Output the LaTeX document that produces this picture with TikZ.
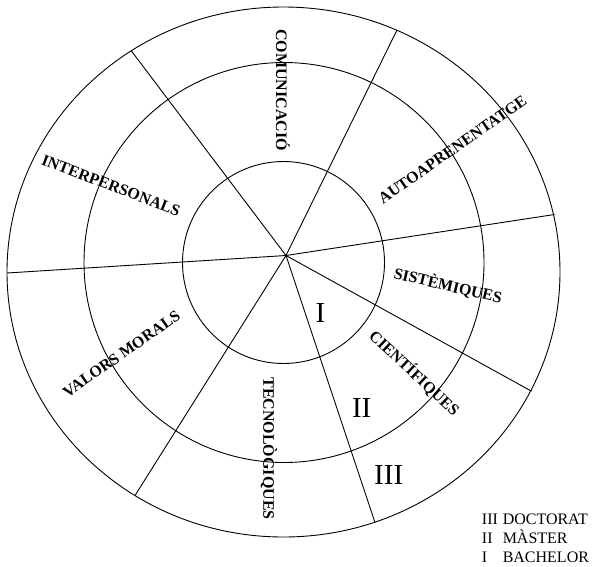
\documentclass[tikz,border=0pt]{standalone}
\usepackage{fontspec}
\setmainfont{Liberation Serif}
\begin{document}
\begin{tikzpicture}[x=1pt,y=-1pt,line width=0.9pt,
  lab/.style={font=\fontsize{16}{16}\selectfont\bfseries,inner sep=0pt},
  num/.style={font=\fontsize{29}{29}\selectfont,inner sep=0pt},
  leg/.style={font=\fontsize{16}{16}\selectfont,inner sep=0pt,anchor=base west}]
\useasboundingbox (0,0) rectangle (592,566);
% rings
\draw (283.5,272) ellipse [x radius=276.5pt, y radius=265pt];
\draw (284,262.5) circle [radius=200pt];
\draw (283.5,262.5) circle [radius=101pt];
% spokes
\coordinate (C) at (286,255.5);
\coordinate (s1) at (131.3,50.8);
\coordinate (s2) at (397,30);
\coordinate (s3) at (554.5,214.5);
\coordinate (s4) at (531.5,391.2);
\coordinate (s5) at (375,522.5);
\coordinate (s6) at (135,495.5);
\coordinate (s7) at (7,273);
\foreach \s in {s1,s2,s3,s4,s5,s6,s7} \draw (C) -- (\s);
% sector labels
\node[lab,rotate=-90] (comm) at (283,90) {COMUNICACIÓ};
\node[lab,rotate=35] (auto) at (452.5,149.5) {AUTOAPRENENTATGE};
\node[lab,rotate=-13] (sist) at (448,285.5) {SISTÈMIQUES};
\node[lab,rotate=-43] (cien) at (414.5,373) {CIENTÍFIQUES};
\node[lab,rotate=-90] (tecn) at (269,448.5) {TECNOLÒGIQUES};
\node[lab,rotate=35] (valo) at (121.5,354) {VALORS MORALS};
\node[lab,rotate=-21] (inte) at (111,185.5) {INTERPERSONALS};
% level numerals
\node[num] (n1) at (320.5,313) {I};
\node[num] (n2) at (361.7,408.3) {II};
\node[num] (n3) at (388.7,475) {III};
% legend
\node[leg] (l1a) at (481.5,524.5) {III};
\node[leg] (l1b) at (502.3,524.5) {DOCTORAT};
\node[leg] (l2a) at (481.5,543.5) {II};
\node[leg] (l2b) at (502.3,543.5) {MÀSTER};
\node[leg] (l3a) at (481.5,562.5) {I};
\node[leg] (l3b) at (502.3,562.5) {BACHELOR};
\end{tikzpicture}
\end{document}
